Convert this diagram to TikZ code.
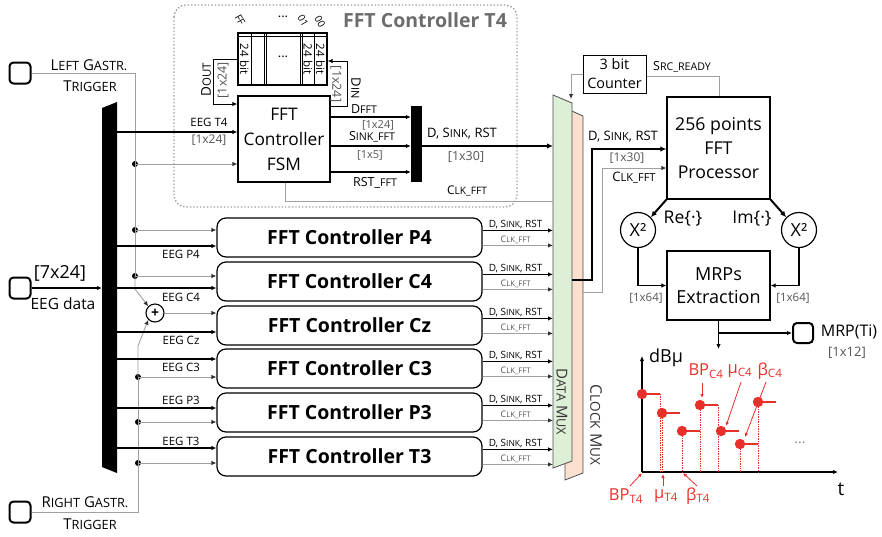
\documentclass[tikz,border=0pt]{standalone}
\usepackage{fontspec}
\setmainfont{Open Sans}
\usepackage{graphicx}
\usetikzlibrary{arrows.meta,calc}
\definecolor{redp}{HTML}{E8302A}
\definecolor{gr}{HTML}{A0A0A0}
\definecolor{lbgray}{HTML}{555555}
\definecolor{muxg}{HTML}{DDEFD6}
\definecolor{muxp}{HTML}{FBE0CF}
\newcommand\smc[1]{\scalebox{0.85}{\MakeUppercase{#1}}}
\newcommand\fs[2]{\fontsize{#1}{#2}\selectfont}
\tikzset{
  lbl/.style={inner sep=0pt, font=\fs{11.5}{13}},
  blbl/.style={inner sep=0pt, font=\fs{12}{14}, text=lbgray},
  clbl/.style={inner sep=0pt, font=\fs{9}{10}, text=lbgray},
  wire/.style={line width=1.3pt, -{Latex[length=5pt,width=4.5pt]}},
  twire/.style={line width=2pt, -{Latex[length=6pt,width=5.5pt]}},
  gwire/.style={gr, line width=0.9pt, -{Latex[length=5pt,width=4.5pt,color=black!80]}},
  port/.style={draw, line width=2pt, rounded corners=4pt, minimum size=21pt, inner sep=0pt},
  ctl/.style={draw, line width=1.2pt, rounded corners=9pt, minimum width=265pt, minimum height=39pt, font=\bfseries\fs{19.5}{21}},
  blk/.style={draw, line width=1.3pt, align=center, inner sep=0pt},
  dot/.style={circle, fill=black, inner sep=0pt, minimum size=6pt},
  sq2/.style={draw, line width=1.2pt, circle, inner sep=0pt, minimum size=35pt, font=\fs{18}{20}},
  rlbl/.style={inner sep=0pt, text=redp, font=\fs{16.5}{18}},
  rarr/.style={redp, line width=0.8pt, -{Latex[length=4pt,width=3.5pt]}},
}
\begin{document}
\begin{tikzpicture}[x=1pt,y=-1pt]
\useasboundingbox (0,0) rectangle (882,536);

% ---------- FFT Controller T4 container
\draw[gr, dotted, line width=1.4pt, rounded corners=12pt] (174,5) rectangle (517,207);
\node[inner sep=0pt, text=gray!85!black, font=\bfseries\fs{19.5}{21}] (t4title) at (425,20) {FFT Controller T4};

% ---------- ports
\node[port] (lt) at (20,73) {};
\node[port] (rt) at (20,512) {};
\node[port] (eeg) at (20,288) {};
\node[inner sep=0pt, font=\fs{15}{17}] (ltl1) at (89,65) {L\smc{eft} G\smc{astr.}};
\node[inner sep=0pt, font=\fs{15}{17}] (ltl2) at (90,86) {T\smc{rigger}};
\node[inner sep=0pt, font=\fs{15}{17}] (rtl1) at (85,502) {R\smc{ight} G\smc{astr.}};
\node[inner sep=0pt, font=\fs{15}{17}] (rtl2) at (90,524) {T\smc{rigger}};
\node[inner sep=0pt, font=\fs{18}{20}] (eegl1) at (60,273) {[7x24]};
\node[inner sep=0pt, font=\fs{15.5}{17}] (eegl2) at (63,304) {EEG data};

% ---------- bus
\fill (102,108) -- (117,102) -- (117,473) -- (102,467) -- cycle;
\coordinate (busin) at (102,288);
\draw[wire] (eeg.east) -- (busin);

% ---------- trigger lines and dots
\coordinate (tl1) at (135,73);
\coordinate (tr1) at (138,512);
\node[dot] (d1) at (135,164) {};
\node[dot] (d2) at (135,230) {};
\node[dot] (d3) at (135,276) {};
\node[dot] (d4) at (138,377) {};
\node[dot] (d5) at (138,422) {};
\node[dot] (d6) at (138,463) {};
\draw[gr, line width=0.9pt] (lt.east) -- (tl1) -- (d3.center);
\draw[gr, line width=0.9pt] (rt.east) -- (tr1) -- (d4.center);
\node[draw, circle, line width=1.1pt, inner sep=0pt, minimum size=18pt, font=\bfseries\fs{14}{14}] (plus) at (155,313) {+};
\draw[gwire] (d3.center) -- (135,289) -- (plus.north west);
\draw[gwire] (d4.center) -- (138,346) -- (plus.south west);

% ---------- controller boxes
\node[ctl] (P4) at (349.5,237.5) {FFT Controller P4};
\node[ctl] (C4) at (349.5,281.5) {FFT Controller C4};
\node[ctl] (Cz) at (349.5,325.5) {FFT Controller Cz};
\node[ctl] (C3) at (349.5,368.5) {FFT Controller C3};
\node[ctl] (P3) at (349.5,412.5) {FFT Controller P3};
\node[ctl] (T3) at (349.5,456.5) {FFT Controller T3};

% ---------- FSM and memory
\node[blk, minimum width=92pt, minimum height=86pt, font=\fs{17.3}{25}] (fsm) at (284,139) {FFT\\Controller\\FSM};
\node[draw, line width=1.3pt, minimum width=89pt, minimum height=52pt, inner sep=0pt] (mem) at (282.5,59) {};
\foreach \xx in {251,264,266,300,302,314}{\draw[line width=0.9pt] (\xx,33) -- (\xx,85);}
\draw[line width=0.9pt] (238,36) -- (327,36);
\node[rotate=-90, inner sep=0pt, font=\fs{11.5}{12}] (c1) at (244.5,59) {24 bit};
\node[rotate=-90, inner sep=0pt, font=\fs{11.5}{12}] (c2) at (308,59) {24 bit};
\node[rotate=-90, inner sep=0pt, font=\fs{11.5}{12}] (c3) at (320.5,59) {24 bit};
\node[inner sep=0pt, font=\fs{13}{13}] (cdots) at (283,57) {...};
\node[rotate=-60, inner sep=0pt, font=\fs{10}{10}] (aFF) at (240,20) {FF};
\node[inner sep=0pt, font=\fs{13}{13}] (adots) at (283,17) {...};
\node[rotate=-60, inner sep=0pt, font=\fs{10}{10}] (a01) at (303,21) {01};
\node[rotate=-60, inner sep=0pt, font=\fs{10}{10}] (a00) at (320,22) {00};

% DOUT / DIN
\coordinate (dout1) at (213,59);
\coordinate (dout2) at (213,104);
\draw[line width=1pt, -{Latex[length=5pt,width=4.5pt]}] (mem.west |- dout1) -- (dout1) -- (dout2) -- (fsm.west |- dout2);
\node[rotate=90, inner sep=0pt, font=\fs{13.5}{14}] (doutl) at (206,80) {D\smc{out}};
\node[rotate=90, blbl, font=\fs{12.5}{14}] (doutb) at (223,80) {[1x24]};
\coordinate (din1) at (347,106);
\coordinate (din2) at (347,61);
\draw[line width=1pt, -{Latex[length=5pt,width=4.5pt]}] (fsm.east |- din1) -- (din1) -- (din2) -- (mem.east |- din2);
\node[rotate=-90, blbl, font=\fs{12.5}{14}] (dinb) at (336,84) {[1x24]};
\node[rotate=-90, inner sep=0pt, font=\fs{13}{14}] (dinl) at (356,88) {D\smc{in}};

% EEG T4 inputs
\coordinate (bT4) at (117,132);
\draw[wire] (bT4) -- (fsm.west |- bT4);
\node[lbl] (lT4) at (209,122) {EEG T4};
\node[blbl] (lT4b) at (209,140) {[1x24]};
\draw[gwire] (d1.center) -- (fsm.west |- d1);

% small bar
\node[fill=black, minimum width=11pt, minimum height=76pt, inner sep=0pt] (sbar) at (416.5,144) {};
\coordinate (o1) at (330,117);
\coordinate (o2) at (330,146);
\coordinate (o3) at (330,172);
\draw[wire] (o1) -- (sbar.west |- o1);
\draw[wire] (o2) -- (sbar.west |- o2);
\draw[wire] (o3) -- (sbar.west |- o3);
\node[inner sep=0pt, font=\fs{12.5}{14}] (lo1) at (364,109) {D\smc{fft}};
\node[blbl, font=\fs{11}{13}] (lo1b) at (378,125) {[1x24]};
\node[inner sep=0pt, font=\fs{12.5}{14}] (lo2) at (372,137) {S\smc{ink\_fft}};
\node[blbl, font=\fs{11}{13}] (lo2b) at (370,155) {[1x5]};
\node[inner sep=0pt, font=\fs{12.5}{14}] (lo3) at (375,183) {RST\_\smc{fft}};

% ---------- muxes
\fill[muxp, draw=gray!60!black, line width=0.8pt] (565,108) -- (583,116) -- (583,473) -- (565,480) -- cycle;
\fill[muxg, draw=gray!60!black, line width=0.8pt] (553,95) -- (572,103) -- (572,461) -- (553,468) -- cycle;
\node[rotate=-90, inner sep=0pt, font=\fs{15}{17}, text=black!80] (dmux) at (562,402) {D\smc{ata} M\smc{ux}};
\node[rotate=-90, inner sep=0pt, font=\fs{16}{18}, text=black!80] (cmux) at (596,425) {C\smc{lock} M\smc{ux}};

% T4 output to mux
\coordinate (mT4) at (553,146);
\draw[twire] (sbar.east |- mT4) -- (mT4);
\node[inner sep=0pt, font=\fs{13}{15}] (lmT4) at (462,134) {D, S\smc{ink}, RST};
\node[blbl, font=\fs{12.5}{14}] (lmT4b) at (466,157) {[1x30]};
\coordinate (ck1) at (285,201);
\coordinate (ck2) at (553,201);
\draw[gr, line width=0.9pt] (fsm.south -| ck1) -- (ck1) -- (ck2);
\node[inner sep=0pt, font=\fs{12}{14}] (lck) at (467,191) {C\smc{lk\_fft}};

% ---------- controller inputs
\foreach \nm/\yb in {P4/246, C4/288, C3/359, P3/408, T3/448}{
  \coordinate (bi\nm) at (117,\yb);
  \draw[wire] (bi\nm) -- (bi\nm -| \nm.west);
}
\coordinate (biCz) at (117,332);
\draw[wire] (biCz) -- (biCz -| Cz.west);
\draw[gwire] (d2.center) -- (d2 -| P4.west);
\draw[gwire] (d3.center) -- (d3 -| C4.west);
\draw[gwire] (plus.east) -- (plus -| Cz.west);
\draw[gwire] (d4.center) -- (d4 -| C3.west);
\draw[gwire] (d5.center) -- (d5 -| P3.west);
\draw[gwire] (d6.center) -- (d6 -| T3.west);
\node[lbl] (eP4) at (181,254) {EEG P4};
\node[lbl] (eC4) at (181,297) {EEG C4};
\node[lbl] (eCz) at (181,340) {EEG Cz};
\node[lbl] (eC3) at (181,367) {EEG C3};
\node[lbl] (eP3) at (181,400) {EEG P3};
\node[lbl] (eT3) at (181,441) {EEG T3};

% ---------- controller outputs
\foreach \nm in {P4,C4,Cz,C3,P3,T3}{
  \coordinate (ob\nm) at ($(\nm.north east)+(0,13)$);
  \coordinate (og\nm) at ($(\nm.north east)+(0,28)$);
  \draw[wire] (ob\nm) -- (553,0 |- ob\nm);
  \draw[gwire] (og\nm) -- (553,0 |- og\nm);
  \node[inner sep=0pt, font=\fs{10}{11}, anchor=south] at ($(ob\nm)+(33,-1.5)$) {D, S\smc{ink}, RST};
  \node[clbl, anchor=south] at ($(og\nm)+(33,-2)$) {C\smc{lk\_fft}};
}

% ---------- counter, processor
\node[blk, line width=1pt, minimum width=63pt, minimum height=38pt, font=\fs{14.4}{19}] (cnt) at (614.5,74) {3 bit\\Counter};
\node[blk, minimum width=103pt, minimum height=102pt, font=\fs{17.7}{24}] (proc) at (718.5,148) {256 points\\FFT\\Processor};
\coordinate (cn1) at (571,74);
\draw[gwire] (cnt.west) -- (cn1) -- (571,99);
\coordinate (sr1) at (719,76);
\draw[gr, line width=0.9pt] (cnt.east |- sr1) -- (sr1) -- (proc.north -| sr1);
\node[inner sep=0pt, font=\fs{12.5}{14}] (lsr) at (682,67) {S\smc{rc\_ready}};

\coordinate (pd0) at (572,280);
\coordinate (pd1) at (592,280);
\coordinate (pd2) at (592,149);
\draw[twire] (pd0) -- (pd1) -- (pd2) -- (proc.west |- pd2);
\coordinate (pc0) at (583,292);
\coordinate (pc1) at (602,292);
\coordinate (pc2) at (602,168);
\draw[gwire] (pc0) -- (pc1) -- (pc2) -- (proc.west |- pc2);
\node[inner sep=0pt, font=\fs{13}{15}] (lpd) at (623,137) {D, S\smc{ink}, RST};
\node[blbl, font=\fs{12}{14}] (lpdb) at (627,158) {[1x30]};
\node[inner sep=0pt, font=\fs{13}{15}] (lpc) at (634,178) {C\smc{lk\_fft}};

% ---------- X^2 and MRPs
\node[sq2] (xl) at (638,230) {X²};
\node[sq2] (xr) at (799,230) {X²};
\draw[twire] (proc.south west) -- (xl.north east);
\draw[twire] (proc.south east) -- (xr.north west);
\node[inner sep=0pt, font=\fs{17.5}{19}] (re) at (683,219) {Re\{·\}};
\node[inner sep=0pt, font=\fs{17.5}{19}] (im) at (752,219) {Im\{·\}};
\node[blk, minimum width=103pt, minimum height=69pt, font=\fs{18}{23}] (mrp) at (718.5,285.5) {MRPs\\Extraction};
\draw[wire] (xl.south) |- (mrp.west);
\draw[wire] (xr.south) |- (mrp.east);
\node[blbl, font=\fs{11.5}{13}] (l64a) at (646,298) {[1x64]};
\node[blbl, font=\fs{11.5}{13}] (l64b) at (793,298) {[1x64]};

\node[port, minimum size=20pt] (out) at (803,333) {};
\coordinate (jn) at (mrp.south |- out.west);
\coordinate (ptop) at (718.5,349);
\draw[wire] (mrp.south) -- (ptop);
\draw[wire] (jn) -- (out.west);
\node[inner sep=0pt, font=\fs{16}{18}] (lout) at (849,332) {MRP(Ti)};
\node[blbl, font=\fs{13}{15}] (loutb) at (847,353) {[1x12]};

% ---------- plot
\coordinate (org) at (642,472);
\coordinate (ytop) at (642,356);
\coordinate (xend) at (838,472);
\draw[line width=1.2pt, -{Latex[length=5pt,width=4.5pt]}] (org) -- (ytop);
\draw[line width=1.2pt, -{Latex[length=5pt,width=4.5pt]}] (org) -- (xend);
\node[inner sep=0pt, font=\fs{18}{20}] (ldb) at (666,358) {dBμ};
\node[inner sep=0pt, font=\fs{19}{21}] (lt2) at (841,489) {t};
\foreach \px/\py in {642/394, 662/413, 682/431, 700/405, 721/431, 740/444, 758/402}{
  \draw[redp, line width=2pt] (\px,\py) -- ++(18,0);
  \fill[redp] (\px,\py) circle (5.2pt);
}
\foreach \px/\py in {660/394, 662/413, 682/431, 700/405, 718/405, 740/444, 758/402}{
  \draw[redp, densely dotted, line width=0.7pt] (\px,\py) -- (\px,472);
}
\node[inner sep=0pt, text=gray, font=\fs{14}{14}] (pdots) at (800,443) {...};
\node[rlbl] (bpc) at (706,371) {BP\textsubscript{C4}};
\node[rlbl] (muc) at (740,371) {μ\textsubscript{C4}};
\node[rlbl] (bec) at (770,371) {β\textsubscript{C4}};
\node[rlbl] (bpt) at (626,496) {BP\textsubscript{T4}};
\node[rlbl] (mut) at (666,496) {μ\textsubscript{T4}};
\node[rlbl] (bet) at (698,496) {β\textsubscript{T4}};
\draw[rarr] (702,383) -- (702,398);
\draw[rarr] (741,382) -- (726,426);
\draw[rarr] (766,382) -- (745,437);
\draw[rarr] (630,486) -- (642,473);
\draw[rarr] (663,486) -- (663,474);
\draw[rarr] (697,486) -- (683,473);
\end{tikzpicture}
\end{document}
